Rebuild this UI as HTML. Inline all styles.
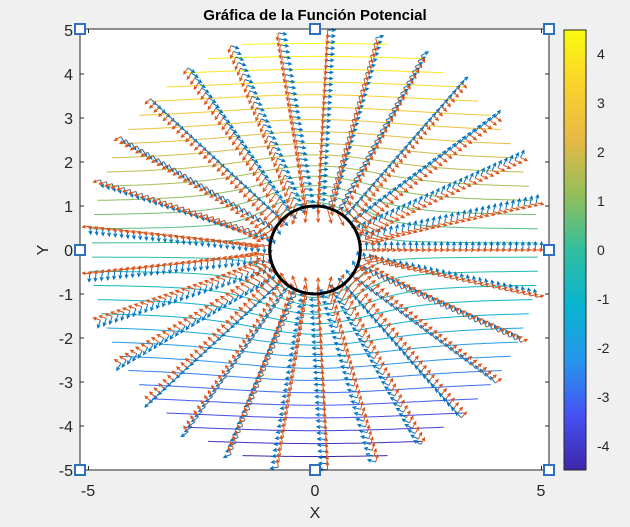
<!DOCTYPE html>
<html><head><meta charset="utf-8"><style>
html,body{margin:0;padding:0;background:#f0f0f0;}
svg{display:block;font-family:"Liberation Sans",Arial,sans-serif;}
</style></head><body>
<svg id="s" width="630" height="527" viewBox="0 0 630 527" xmlns="http://www.w3.org/2000/svg">
<rect x="0" y="0" width="630" height="527" fill="#f0f0f0"/>
<rect x="80" y="29" width="469" height="441" fill="#ffffff"/>
<g id="cont" fill="none" stroke-width="1"></g>
<g id="qv" fill="none" stroke-width="1"></g>
<ellipse cx="315" cy="250" rx="45.3" ry="44" fill="none" stroke="#000" stroke-width="3"/>
<rect x="80" y="29" width="469" height="441" fill="none" stroke="#262626" stroke-width="1"/>
<g id="ticks" stroke="#262626" stroke-width="1"></g>
<g fill="#262626" font-size="16" text-anchor="middle">
<text x="88" y="496">-5</text><text x="315" y="496">0</text><text x="541" y="496">5</text>
<text x="315" y="518">X</text>
<text x="42" y="256" transform="rotate(-90 42 250)">Y</text>
</g>
<g id="ylab" fill="#262626" font-size="16" text-anchor="end"></g>
<text x="315" y="20" font-size="15" font-weight="bold" text-anchor="middle" fill="#000">Gráfica de la Función Potencial</text>
<g id="cbar"></g>
<rect x="564" y="30" width="22" height="440" fill="none" stroke="#262626" stroke-width="1"/>
<g id="cblab" fill="#262626" font-size="14" text-anchor="start"></g>
<g id="handles" fill="#fff" stroke="#2f6fbf" stroke-width="2"></g>
</svg>
<script>
var NS="http://www.w3.org/2000/svg";
function el(p,t,a){var e=document.createElementNS(NS,t);for(var k in a)e.setAttribute(k,a[k]);p.appendChild(e);return e;}
var cx=315,cy=250,sx=45.3,sy=44;
function X(x){return cx+x*sx;}function Y(y){return cy-y*sy;}
var P=[[0,[62,38,168]],[0.125,[70,82,244]],[0.25,[39,150,235]],[0.375,[8,180,208]],[0.5,[50,190,160]],[0.625,[145,190,90]],[0.75,[230,185,70]],[0.875,[250,210,45]],[1,[249,251,14]]];
function par(t){t=Math.max(0,Math.min(1,t));for(var i=1;i<P.length;i++){if(t<=P[i][0]){var a=P[i-1],b=P[i],f=(t-a[0])/(b[0]-a[0]);return "rgb("+[0,1,2].map(function(j){return Math.round(a[1][j]+(b[1][j]-a[1][j])*f)}).join(",")+")";}}}
var cb=document.getElementById("cbar");
for(var i=0;i<440;i++){el(cb,"rect",{x:564,y:30+i,width:22,height:1.2,fill:par(1-i/440)});}
var cbl=document.getElementById("cblab"),tk=document.getElementById("ticks");
for(var v=-4;v<=4;v++){var yy=250-v*49;el(cbl,"text",{x:597,y:yy+5}).textContent=v;
el(tk,"line",{x1:564,y1:yy,x2:567,y2:yy});el(tk,"line",{x1:583,y1:yy,x2:586,y2:yy});}
var yl=document.getElementById("ylab");
for(var v=-5;v<=5;v++){var yy=Y(v);el(yl,"text",{x:73,y:yy+6}).textContent=v;
el(tk,"line",{x1:80,y1:yy,x2:84,y2:yy});el(tk,"line",{x1:545,y1:yy,x2:549,y2:yy});}
[-5,0,5].forEach(function(v){el(tk,"line",{x1:X(v),y1:470,x2:X(v),y2:466});el(tk,"line",{x1:X(v),y1:29,x2:X(v),y2:33});});
var cg=document.getElementById("cont");
var mn=-4.79,mx=4.79,clim=4.49;
for(var k=1;k<=30;k++){var c=mn+(mx-mn)*k/31;var col=par((c+clim)/(2*clim));
 var s=c>0?1:-1,segs=[],cur=[];
 for(var x=-5;x<=5.001;x+=0.04){
  var f=function(y){var r2=x*x+y*y;return y*(1-1/r2)-c;};
  var yv=null,prev=f(s*6);
  for(var yy=6;yy>0.001;yy-=0.02){var fv=f(s*yy);if((fv>0)!=(prev>0)){var a=s*yy,b=s*(yy+0.02);for(var it=0;it<30;it++){var m=(a+b)/2;if((f(m)>0)==(f(a)>0))a=m;else b=m;}yv=(a+b)/2;break;}prev=fv;}
  var ok=yv!==null;if(ok){var r=Math.sqrt(x*x+yv*yv);ok=r>=1&&r<=4.95;}
  if(ok)cur.push(X(x).toFixed(1)+","+Y(yv).toFixed(1));else{if(cur.length>1)segs.push(cur);cur=[];}
 }
 if(cur.length>1)segs.push(cur);
 segs.forEach(function(sg){el(cg,"polyline",{points:sg.join(" "),stroke:col});});
}
var qg=document.getElementById("qv");
function arrow(x0,y0,dx,dy){var x1=x0+dx,y1=y0+dy,L=Math.sqrt(dx*dx+dy*dy),ux=dx/L,uy=dy/L,h=Math.min(3.5,L*0.4);
 return "M"+x0.toFixed(1)+" "+y0.toFixed(1)+"L"+x1.toFixed(1)+" "+y1.toFixed(1)+"M"+(x1-h*ux+h*0.5*uy).toFixed(1)+" "+(y1-h*uy-h*0.5*ux).toFixed(1)+"L"+x1.toFixed(1)+" "+y1.toFixed(1)+"L"+(x1-h*ux-h*0.5*uy).toFixed(1)+" "+(y1-h*uy+h*0.5*ux).toFixed(1);}
var dr="",db="";
for(var i=0;i<29;i++){var th=2*Math.PI*i/29;var ct=Math.cos(th),st=Math.sin(th);
 for(var j=0;j<30;j++){var r=1+4*j/29;var px=X(r*ct),py=Y(r*st);
  var lr=7+9/(r*r);
  dr+=arrow(px,py,ct*lr,st*lr);
  db+=arrow(px,py,st*8,-ct*8);
 }}
el(qg,"path",{d:db,stroke:"#0072bd"});
el(qg,"path",{d:dr,stroke:"#d95319"});
var hg=document.getElementById("handles");
[[80,29],[315,29],[549,29],[80,250],[549,250],[80,470],[315,470],[549,470]].forEach(function(p){el(hg,"rect",{x:p[0]-5,y:p[1]-5,width:10,height:10});});
</script>
</body></html>
